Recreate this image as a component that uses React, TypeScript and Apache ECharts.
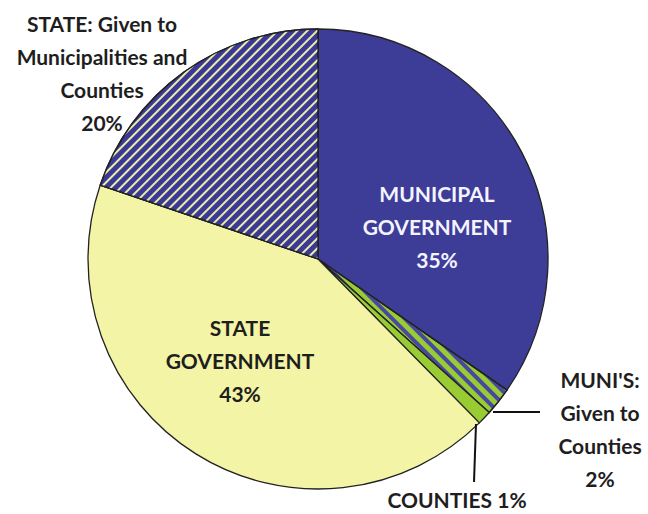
import React, { useEffect, useRef } from "react";
import * as echarts from "echarts";

const categories = [
  "MUNICIPAL\nGOVERNMENT",
  "MUNI'S:\nGiven to\nCounties",
  "COUNTIES",
  "STATE\nGOVERNMENT",
  "STATE: Given to\nMunicipalities and\nCounties",
];
const values = [35, 2, 1, 43, 20];
const pctLabels = ["35%", "2%", "1%", "43%", "20%"];

const labelPos: Record<number, { x: number; y: number }> = {
  0: { x: 437, y: 226 },
  1: { x: 600, y: 429 },
  2: { x: 457, y: 499 },
  3: { x: 240, y: 360 },
  4: { x: 102, y: 73 },
};

export default function App() {
  const ref = useRef<HTMLDivElement>(null);
  useEffect(() => {
    document.body.style.margin = "0";
    const chart = echarts.init(ref.current!, null, { renderer: "svg" });
    const font = "Lato, 'Open Sans', sans-serif";
    const data = values.map((v, i) => {
      const item: any = { name: categories[i], value: v };
      if (i === 0) {
        item.itemStyle = { color: "#3d3d98" };
        item.label = { color: "#f4f4ff" };
      } else if (i === 1) {
        item.itemStyle = {
          color: "#99cc33",
          decal: {
            symbol: "rect",
            symbolSize: 1,
            dashArrayX: [1, 0],
            dashArrayY: [4, 5],
            rotation: Math.PI / 4,
            color: "#4848a0",
          },
        };
      } else if (i === 2) {
        item.itemStyle = { color: "#99cc33" };
      } else if (i === 3) {
        item.itemStyle = { color: "#f4f4a6" };
      } else {
        item.itemStyle = {
          color: "#3a3a96",
          decal: {
            symbol: "rect",
            symbolSize: 1,
            dashArrayX: [1, 0],
            dashArrayY: [2, 5],
            rotation: -Math.PI / 4,
            color: "#ececa8",
          },
        };
      }
      return item;
    });
    chart.setOption({
      animation: false,
      graphic: [
        {
          type: "line",
          shape: { x1: 493, y1: 412, x2: 540, y2: 412 },
          style: { stroke: "#111", lineWidth: 2 },
          z: 10,
        },
        {
          type: "line",
          shape: { x1: 476, y1: 424, x2: 474, y2: 482 },
          style: { stroke: "#111", lineWidth: 2 },
          z: 10,
        },
      ],
      series: [
        {
          type: "pie",
          center: [318, 259],
          radius: 230,
          startAngle: 90,
          clockwise: true,
          data,
          itemStyle: { borderColor: "#222", borderWidth: 1.3 },
          label: {
            show: true,
            position: "inside",
            formatter: (p: any) =>
              p.dataIndex === 2
                ? "COUNTIES " + pctLabels[2]
                : p.name + "\n" + pctLabels[p.dataIndex],
            fontFamily: font,
            fontSize: 21,
            fontWeight: "bold",
            lineHeight: 33,
            color: "#1e1e1e",
            align: "center",
          },
          labelLine: { show: false },
          labelLayout: (params: any) => {
            const p = labelPos[params.dataIndex];
            return { x: p.x, y: p.y, align: "center", verticalAlign: "middle" };
          },
        },
      ],
    });
    return () => chart.dispose();
  }, []);
  return <div ref={ref} style={{ width: 648, height: 514 }} />;
}
